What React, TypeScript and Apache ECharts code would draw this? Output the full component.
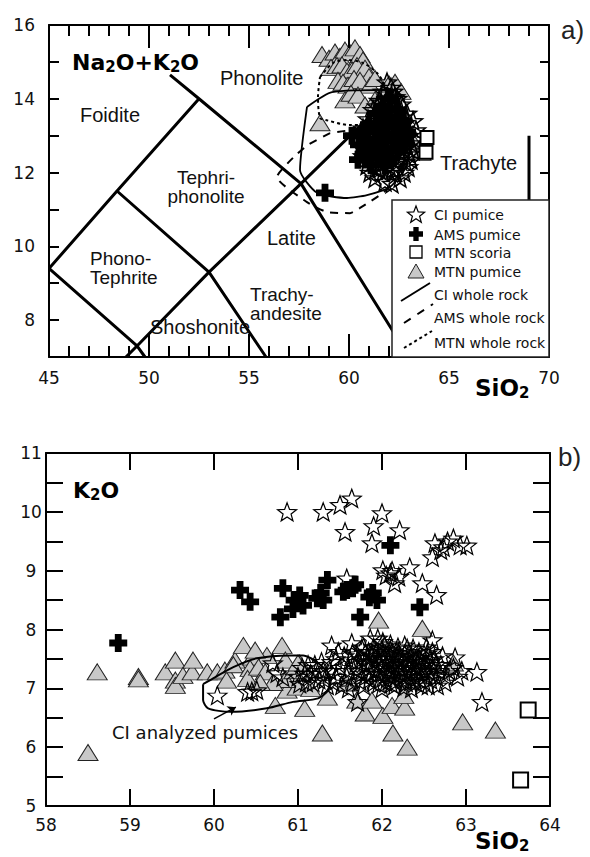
import React, { useEffect, useRef } from 'react';
import * as echarts from 'echarts';

// ---------------- (a) TAS diagram ----------------
const tasXRange = [45, 70];
const tasYRange = [7, 16];

// TAS field boundaries [SiO2, Na2O+K2O]
const tasLineA = [[45, 9.4], [48.4, 11.5], [52.5, 14]];
const tasLineB = [[45, 9.4], [49.4, 7.3], [49.8, 7]];
const tasLineC = [[48.4, 11.5], [53, 9.3], [55.85, 7]];
const tasLineD = [[48.85, 7], [49.4, 7.3], [53, 9.3], [57.6, 11.7], [61, 13.5]];
const tasLineE = [[51.05, 14.65], [52.5, 14], [57.6, 11.7], [63, 7]];
const tasLineF = [[69, 13], [69, 8]];

// whole-rock fields
const ciWholeRock = [[57.9, 13.78], [59.15, 14.18], [62.3, 14.24], [62.8, 13.9], [63.1, 13.1], [62.9, 12.2], [62.05, 11.61], [60.9, 11.39], [59.9, 11.31], [58.4, 11.45], [57.55, 12.07], [57.9, 13.78]];
const amsWholeRock = [[59.05, 13.07], [57.95, 12.75], [57.2, 12.4], [56.4, 11.88], [57.9, 11.2], [58.9, 10.93], [60.05, 10.9], [60.55, 11.04], [61.8, 11.5], [62.7, 12.2], [62.6, 13.0], [61.0, 13.2], [59.05, 13.07]];
const mtnWholeRock = [[58.55, 14.59], [59.2, 14.97], [59.9, 15.05], [60.7, 14.97], [61.4, 14.7], [61.85, 14.3], [62.0, 13.8], [61.2, 13.3], [60.05, 13.29], [58.8, 13.43], [58.55, 13.48], [58.45, 14.05], [58.55, 14.59]];

const tasMtnPumice = [
  [58.65, 15.2], [59.0, 15.1], [59.3, 15.27], [59.55, 15.15], [59.8, 15.32], [60.05, 15.25], [60.3, 15.38], [60.55, 15.2], [60.7, 15.05],
  [59.1, 14.85], [59.4, 14.9], [59.65, 14.92], [59.9, 14.75], [60.15, 14.78], [60.4, 14.9], [60.8, 14.83], [61.0, 14.6],
  [59.45, 14.5], [59.7, 14.45], [59.95, 14.37], [60.25, 14.55], [60.55, 14.5], [61.05, 14.37], [61.3, 14.55],
  [59.8, 13.97], [60.1, 14.15], [60.45, 14.1], [60.8, 13.83], [61.3, 13.97], [61.55, 13.48], [61.8, 14.1], [62.0, 14.4],
  [62.3, 14.45], [62.6, 14.2], [58.55, 13.35], [63.6, 12.55], [63.2, 12.85]
];
const tasCiPumice = [
  [61.9, 14.45], [62.1, 14.3], [61.7, 14.2], [62.3, 14.05], [61.5, 13.95], [62.6, 13.85], [61.2, 13.7], [62.9, 13.6], [60.95, 13.45], [63.2, 13.4],
  [60.7, 13.2], [63.35, 13.15], [60.5, 13.0], [63.3, 12.9], [60.6, 12.7], [63.2, 12.6], [60.7, 12.45], [63.1, 12.35], [60.9, 12.2], [62.95, 12.15],
  [61.05, 12.0], [62.75, 12.0], [61.3, 11.85], [62.55, 11.85], [61.8, 11.75], [62.15, 11.7], [61.5, 12.1], [62.3, 12.05],
  [61.4, 13.4], [61.8, 13.6], [62.2, 13.7], [62.6, 13.5], [61.1, 13.0], [61.5, 13.15], [61.9, 13.3], [62.3, 13.4], [62.7, 13.15], [63.0, 13.0],
  [60.9, 12.7], [61.3, 12.85], [61.7, 12.9], [62.1, 13.0], [62.5, 12.85], [62.9, 12.7], [61.0, 12.45], [61.4, 12.55], [61.8, 12.45], [62.2, 12.6],
  [62.6, 12.45], [63.0, 12.5], [61.2, 12.3], [61.6, 12.25], [62.0, 12.2], [62.4, 12.3], [62.8, 12.3], [61.6, 13.9], [62.0, 13.85], [62.4, 14.0],
  [61.1, 13.2], [61.3, 12.4], [61.5, 12.7], [61.7, 13.1], [61.9, 12.8], [62.1, 12.5], [62.3, 12.75], [62.5, 13.2], [62.7, 12.65], [62.9, 12.95],
  [61.2, 12.95], [61.6, 13.55], [62.0, 13.6], [62.4, 13.55], [62.8, 13.35], [61.9, 14.0], [62.2, 14.2], [61.4, 13.8], [61.0, 12.75], [60.8, 13.05],
  [63.1, 12.8], [62.2, 12.1], [61.7, 12.0], [61.35, 12.1]
];
const tasAmsPumice = [
  [58.8, 11.45], [60.15, 13.0], [60.45, 12.35], [60.5, 12.75], [60.7, 13.1], [60.8, 12.5], [60.9, 12.9], [61.0, 13.3], [61.1, 12.2], [61.2, 12.7],
  [61.3, 13.1], [61.35, 13.6], [61.5, 12.4], [61.55, 12.9], [61.6, 13.3], [61.7, 13.8], [61.8, 12.2], [61.85, 12.65], [61.9, 13.05], [62.0, 13.5],
  [62.05, 14.0], [62.1, 12.4], [62.2, 12.85], [62.3, 13.25], [62.4, 13.7], [62.45, 12.6], [62.55, 13.0], [62.7, 13.4], [62.8, 12.8], [62.9, 13.1]
];
const tasMtnScoria = [[63.9, 12.95], [63.85, 12.55]];

// ---------------- (b) K2O vs SiO2 ----------------
const k2oXRange = [58, 64];
const k2oYRange = [5, 11];

const k2oCiPumice = [
  [60.87, 10.0], [61.3, 10.0], [61.5, 10.12], [61.64, 10.23], [62.0, 9.98], [61.9, 9.76], [61.56, 9.66], [62.21, 9.69], [61.88, 9.47],
  [62.63, 9.47], [62.73, 9.4], [62.85, 9.55], [62.93, 9.43], [63.01, 9.43], [62.6, 9.23], [62.78, 9.5], [62.7, 9.35],
  [62.1, 8.96], [62.01, 9.01], [62.15, 8.79], [62.33, 9.06], [62.48, 8.79], [62.65, 8.59], [61.58, 8.87], [62.05, 8.92], [62.2, 8.9], [62.12, 9.0],
  [62.27, 7.73], [62.6, 7.82], [62.87, 7.53], [63.13, 7.28], [62.57, 7.48], [62.01, 7.79], [61.4, 7.73], [61.64, 7.77], [61.86, 7.85], [62.75, 7.22], [63.19, 6.77], [61.71, 6.77],
  [60.04, 6.88], [60.4, 6.94], [60.51, 6.97], [60.45, 6.95], [60.7, 7.43], [60.75, 7.26], [60.82, 7.19],
  [61.0, 7.2], [61.05, 7.35], [61.1, 7.1], [61.15, 7.25], [61.2, 7.4], [61.25, 7.15], [61.3, 7.3], [61.35, 7.05], [61.4, 7.45], [61.45, 7.2],
  [61.55, 7.55], [61.6, 7.3], [61.65, 7.1], [61.7, 7.45], [61.75, 7.25], [61.8, 7.6], [61.85, 7.35], [61.9, 7.1], [61.95, 7.5], [61.95, 7.25],
  [62.0, 7.65], [62.0, 7.0], [62.05, 7.4], [62.1, 7.2], [62.1, 7.55], [62.15, 7.05], [62.2, 7.35], [62.2, 7.6], [62.25, 7.15], [62.3, 7.45],
  [62.3, 7.25], [62.35, 7.0], [62.4, 7.35], [62.45, 7.15], [62.45, 7.5], [62.5, 7.25], [62.55, 7.05], [62.6, 7.35], [62.65, 7.2], [62.7, 7.4],
  [62.75, 7.1], [62.8, 7.3], [62.9, 7.2], [61.85, 7.15], [61.75, 7.5], [61.65, 7.6], [62.15, 7.3], [62.35, 7.55], [61.5, 7.35], [61.6, 7.0],
  [61.95, 7.85], [62.1, 7.75], [62.4, 7.1], [62.25, 7.5], [62.05, 7.1],
  [61.72, 7.3], [61.78, 7.05], [61.82, 7.42], [61.88, 7.55], [61.92, 7.3], [61.98, 7.15], [62.02, 7.45], [62.08, 7.3], [62.12, 7.62], [62.18, 7.45],
  [62.22, 7.25], [62.28, 7.35], [62.32, 7.6], [62.38, 7.2], [62.42, 7.42], [62.48, 7.3], [62.52, 7.45], [62.58, 7.15], [62.62, 7.5], [62.68, 7.3],
  [61.76, 7.68], [61.9, 7.7], [62.04, 7.58], [62.16, 7.12], [62.26, 7.02], [62.44, 7.62], [62.54, 7.6], [62.72, 7.55], [62.85, 7.35], [62.95, 7.3],
  [61.68, 7.38], [61.62, 7.48], [61.58, 7.2], [61.52, 7.05], [61.45, 7.5], [61.38, 7.3], [61.32, 7.15], [61.28, 7.45], [61.22, 7.3], [61.18, 7.1],
  [61.12, 7.4], [61.08, 7.25], [61.02, 7.08], [61.48, 7.62], [61.42, 7.1], [62.0, 7.35], [62.14, 7.4], [62.36, 7.32], [62.5, 7.12], [62.66, 7.05],
  [61.78, 7.7], [61.83, 7.52], [61.87, 7.25], [61.93, 7.62], [61.97, 7.4], [62.03, 7.72], [62.07, 7.5], [62.11, 7.08], [62.17, 7.55], [62.19, 7.7],
  [62.23, 7.42], [62.27, 7.58], [62.29, 7.1], [62.33, 7.38], [62.37, 7.68], [62.41, 7.28], [62.43, 7.52], [62.47, 7.05], [62.51, 7.38], [62.53, 7.7],
  [61.8, 7.2], [61.84, 7.62], [61.9, 7.45], [61.96, 7.08], [62.0, 7.5], [62.06, 7.25], [62.1, 7.65], [62.14, 7.18], [62.2, 7.5], [62.24, 7.32],
  [62.3, 7.68], [62.34, 7.12], [62.4, 7.48], [62.46, 7.38], [62.5, 7.58], [62.56, 7.28], [61.74, 7.12], [61.7, 7.58], [62.6, 7.62], [62.64, 7.4]
];
const k2oAmsPumice = [
  [58.86, 7.77], [60.31, 8.67], [60.43, 8.47], [60.82, 8.7], [60.79, 8.21], [60.96, 8.5], [61.02, 8.58], [61.06, 8.41], [60.94, 8.35], [61.23, 8.53],
  [61.27, 8.62], [61.35, 8.84], [61.3, 8.5], [61.54, 8.64], [61.65, 8.7], [61.58, 8.67], [61.68, 8.76], [61.89, 8.62], [61.94, 8.5], [61.74, 8.21],
  [62.1, 9.43], [62.45, 8.38], [61.85, 8.55]
];
const k2oMtnPumice = [
  [58.5, 5.91], [58.61, 7.28], [59.1, 7.2], [59.1, 7.16], [59.42, 7.28], [59.54, 7.48], [59.54, 7.14], [59.54, 7.05], [59.63, 7.22], [59.74, 7.28],
  [59.75, 7.48], [59.92, 7.28], [60.04, 7.28], [60.13, 7.31], [60.15, 7.14], [60.25, 7.48], [60.23, 7.4], [60.35, 7.73], [60.46, 7.53], [60.43, 7.34],
  [60.4, 7.17], [60.63, 7.56], [60.53, 7.36], [60.61, 7.28], [60.81, 7.73], [60.85, 7.48], [60.73, 6.71], [60.87, 6.97], [60.99, 7.02], [61.02, 7.43],
  [60.85, 7.15], [61.08, 6.66], [61.35, 6.85], [61.29, 6.24], [61.58, 7.09], [61.7, 6.8], [61.8, 6.58], [61.88, 6.8], [62.01, 6.54], [62.12, 6.71],
  [62.27, 6.68], [62.13, 6.24], [62.3, 6.0], [62.26, 6.88], [62.01, 7.77], [61.96, 8.16], [62.48, 8.02], [62.85, 7.43], [62.96, 6.43], [63.35, 6.29],
  [60.7, 7.1], [60.95, 7.3], [60.55, 7.1], [61.15, 7.0], [60.49, 7.65], [61.0, 7.43]
];
const k2oMtnScoria = [[63.74, 6.63], [63.65, 5.44]];
const ciAnalyzedField = [[59.87, 7.07], [59.99, 7.17], [60.23, 7.36], [60.51, 7.51], [60.9, 7.56], [61.06, 7.56], [61.24, 7.43], [61.38, 7.19], [61.36, 6.97], [61.24, 6.83], [60.94, 6.77], [60.63, 6.66], [60.19, 6.6], [59.93, 6.66], [59.87, 6.8], [59.87, 7.07]];
const ciArrow = [[60.0, 6.48], [60.26, 6.68]];

const STAR = 'path://M0,-10L2.47,-3.4L9.51,-3.09L3.99,1.3L5.88,8.09L0,4.2L-5.88,8.09L-3.99,1.3L-9.51,-3.09L-2.47,-3.4Z';
const CROSS = 'path://M3.1,0H6.9V3.1H10V6.9H6.9V10H3.1V6.9H0V3.1H3.1Z';

const FONT = 'DejaVu Sans';
const REG = 'Liberation Sans';

function starPts(cx: number, cy: number, R: number) {
  const pts: number[][] = [];
  for (let i = 0; i < 10; i++) {
    const a = -Math.PI / 2 + (i * Math.PI) / 5;
    const rr = i % 2 === 0 ? R : R * 0.42;
    pts.push([cx + rr * Math.cos(a), cy + rr * Math.sin(a)]);
  }
  return pts;
}
function crossPts(cx: number, cy: number, s: number) {
  const h = s / 2, t = s * 0.19;
  return [[cx - t, cy - h], [cx + t, cy - h], [cx + t, cy - t], [cx + h, cy - t], [cx + h, cy + t], [cx + t, cy + t], [cx + t, cy + h], [cx - t, cy + h], [cx - t, cy + t], [cx - h, cy + t], [cx - h, cy - t], [cx - t, cy - t]];
}

function valAxis(grid: number, pos: string, range: number[], interval: number, tickLen: number, showLabel: boolean, extra: any = {}) {
  return {
    type: 'value', gridIndex: grid, position: pos, min: range[0], max: range[1], interval,
    axisLine: { show: true, onZero: false, lineStyle: { color: '#000', width: 2 } },
    axisTick: { show: true, inside: true, length: tickLen, lineStyle: { color: '#000', width: 2 } },
    splitLine: { show: false },
    axisLabel: { show: showLabel, fontFamily: FONT, fontSize: 17, color: '#111' },
    ...extra,
  };
}

function tasLine(data: number[][]) {
  return { type: 'line', xAxisIndex: 0, yAxisIndex: 0, data, symbol: 'none', silent: true, lineStyle: { color: '#000', width: 3 }, z: 1 };
}

function text(x: number, y: number, t: string, size: number, extra: any = {}) {
  return {
    type: 'text', x, y, z: 60,
    style: { text: t, fontFamily: REG, fontSize: size, fill: '#111', textVerticalAlign: 'middle', verticalAlign: 'middle', ...extra },
  };
}

function subText(x: number, y: number, t: string, size: number) {
  return {
    type: 'text', x, y, z: 60,
    style: {
      text: t, fontFamily: FONT, fontWeight: 'bold', fontSize: size, fill: '#000',
      textVerticalAlign: 'middle', verticalAlign: 'middle',
      rich: {
        a: { fontFamily: FONT, fontWeight: 'bold', fontSize: size, lineHeight: size + 2, fill: '#000' },
        s: { fontFamily: FONT, fontWeight: 'bold', fontSize: Math.round(size * 0.66), lineHeight: 8, verticalAlign: 'bottom', fill: '#000' },
      },
    },
  };
}

const grids = [
  { left: 49, top: 25, width: 500, height: 332 },
  { left: 46, top: 453, width: 504, height: 353 },
];

// ticks of the TAS x axes (every unit, long ones every 5), spaced along the axis extent
function tasXTicks() {
  const g = grids[0];
  const els: any[] = [];
  for (let v = tasXRange[0] + 1; v < tasXRange[1]; v++) {
    const len = v % 5 === 0 ? 23 : 11;
    const px = Math.round(g.left + ((v - tasXRange[0]) / (tasXRange[1] - tasXRange[0])) * g.width);
    els.push({ type: 'rect', z: 40, shape: { x: px - 1, y: g.top + g.height - len, width: 2, height: len }, style: { fill: '#000' } });
    els.push({ type: 'rect', z: 40, shape: { x: px - 1, y: g.top, width: 2, height: len }, style: { fill: '#000' } });
  }
  return els;
}

export default function App() {
  const ref = useRef<HTMLDivElement>(null);
  useEffect(() => {
    if (!ref.current) return;
    const chart = echarts.init(ref.current, undefined, { renderer: 'svg' });

    const lg = (y: number, t: string) => ({
      type: 'text', x: 434, y, z: 61,
      style: { text: t, fontFamily: FONT, fontSize: 14, fill: '#111', textVerticalAlign: 'middle', verticalAlign: 'middle' },
    });
    const starStyle = (bw: number) => ({ color: 'rgba(255,255,255,0)', borderColor: '#000', borderWidth: bw, opacity: 1 });

    const option: any = {
      animation: false,
      grid: grids,
      xAxis: [
        valAxis(0, 'bottom', tasXRange, 5, 23, true, { axisTick: { show: false }, axisLabel: { fontFamily: FONT, fontSize: 17, color: '#111', margin: 12 } }),
        valAxis(0, 'top', tasXRange, 5, 23, false, { axisTick: { show: false } }),
        valAxis(1, 'bottom', k2oXRange, 1, 17, true, { axisLabel: { fontFamily: FONT, fontSize: 17, color: '#111', margin: 10 } }),
        valAxis(1, 'top', k2oXRange, 1, 17, false),
      ],
      yAxis: [
        valAxis(0, 'left', tasYRange, 1, 10, true, {
          axisLabel: { fontFamily: FONT, fontSize: 17, color: '#111', margin: 14, padding: [10, 0, 0, 0], formatter: (v: number) => (v % 2 === 0 ? String(v) : '') },
        }),
        valAxis(0, 'right', tasYRange, 1, 9, false),
        valAxis(1, 'left', k2oYRange, 0.5, 17, true, {
          axisLabel: { fontFamily: FONT, fontSize: 17, color: '#111', margin: 15, align: 'center', formatter: (v: number) => (Number.isInteger(v) ? String(v) : '') },
        }),
        valAxis(1, 'right', k2oYRange, 0.5, 17, false),
      ],
      series: [
        tasLine(tasLineA), tasLine(tasLineB), tasLine(tasLineC), tasLine(tasLineD), tasLine(tasLineE), tasLine(tasLineF),
        { type: 'scatter', xAxisIndex: 0, yAxisIndex: 0, data: tasMtnPumice, symbol: 'triangle', symbolSize: [20, 16], silent: true, itemStyle: { color: '#c8c8c8', borderColor: '#222', borderWidth: 1, opacity: 1 } },
        { type: 'line', xAxisIndex: 0, yAxisIndex: 0, data: ciWholeRock, symbol: 'none', smooth: 0.2, silent: true, lineStyle: { color: '#000', width: 1.8 } },
        { type: 'line', xAxisIndex: 0, yAxisIndex: 0, data: amsWholeRock, symbol: 'none', smooth: 0.2, silent: true, lineStyle: { color: '#000', width: 2, type: [8, 7] } },
        { type: 'line', xAxisIndex: 0, yAxisIndex: 0, data: mtnWholeRock, symbol: 'none', smooth: 0.3, silent: true, lineStyle: { color: '#000', width: 2, type: [3, 3] } },
        { type: 'scatter', xAxisIndex: 0, yAxisIndex: 0, data: tasCiPumice, symbol: STAR, symbolSize: [19, 18], silent: true, itemStyle: starStyle(1.5) },
        { type: 'scatter', xAxisIndex: 0, yAxisIndex: 0, data: tasAmsPumice, symbol: CROSS, symbolSize: 18, silent: true, itemStyle: { color: '#000', opacity: 1 } },
        { type: 'scatter', xAxisIndex: 0, yAxisIndex: 0, data: tasMtnScoria, symbol: 'rect', symbolSize: 13, silent: true, itemStyle: { color: '#fff', borderColor: '#000', borderWidth: 2, opacity: 1 } },

        { type: 'scatter', xAxisIndex: 2, yAxisIndex: 2, data: k2oMtnPumice, symbol: 'triangle', symbolSize: [20, 16], silent: true, itemStyle: { color: '#c8c8c8', borderColor: '#222', borderWidth: 1, opacity: 1 } },
        { type: 'line', xAxisIndex: 2, yAxisIndex: 2, data: ciAnalyzedField, symbol: 'none', smooth: 0.25, silent: true, lineStyle: { color: '#000', width: 2 } },
        { type: 'scatter', xAxisIndex: 2, yAxisIndex: 2, data: k2oCiPumice, symbol: STAR, symbolSize: [19, 18], silent: true, itemStyle: starStyle(1.2) },
        { type: 'scatter', xAxisIndex: 2, yAxisIndex: 2, data: k2oAmsPumice, symbol: CROSS, symbolSize: 18, silent: true, itemStyle: { color: '#000', opacity: 1 } },
        { type: 'scatter', xAxisIndex: 2, yAxisIndex: 2, data: k2oMtnScoria, symbol: 'rect', symbolSize: 15, silent: true, itemStyle: { color: '#fff', borderColor: '#000', borderWidth: 2, opacity: 1 } },
        { type: 'lines', coordinateSystem: 'cartesian2d', xAxisIndex: 2, yAxisIndex: 2, silent: true, symbol: ['none', 'arrow'], symbolSize: 8, lineStyle: { color: '#000', width: 1.5, opacity: 1 }, data: [{ coords: ciArrow }] },
      ],
      graphic: {
        elements: [
          ...tasXTicks(),
          // region names
          text(80, 115, 'Foidite', 20),
          text(220, 78, 'Phonolite', 20),
          text(206, 177, 'Tephri-', 19, { align: 'center', textAlign: 'center' }),
          text(206, 196, 'phonolite', 19, { align: 'center', textAlign: 'center' }),
          text(90, 258, 'Phono-', 19),
          text(90, 277, 'Tephrite', 19),
          text(267, 238, 'Latite', 20),
          text(250, 294, 'Trachy-', 19),
          text(250, 313, 'andesite', 19),
          text(150, 327, 'Shoshonite', 20),
          text(440, 163, 'Trachyte', 20),
          // axis titles
          subText(72, 62, '{a|Na}{s|2}{a|O+K}{s|2}{a|O}', 22),
          subText(475, 388, '{a|SiO}{s|2}', 23),
          subText(73, 490, '{a|K}{s|2}{a|O}', 22),
          subText(475, 841, '{a|SiO}{s|2}', 23),
          text(561, 30, 'a)', 26, { fill: '#222' }),
          text(558, 457, 'b)', 26, { fill: '#222' }),
          text(112, 732, 'CI analyzed pumices', 18, { fontFamily: FONT }),
          // legend
          { type: 'rect', z: 55, shape: { x: 392, y: 200, width: 157, height: 157 }, style: { fill: '#fff', stroke: '#222', lineWidth: 1.5 } },
          { type: 'polygon', z: 61, shape: { points: starPts(416, 215, 9) }, style: { fill: '#fff', stroke: '#000', lineWidth: 1.2 } },
          { type: 'polygon', z: 61, shape: { points: crossPts(416, 234, 14) }, style: { fill: '#000' } },
          { type: 'rect', z: 61, shape: { x: 410, y: 246, width: 12, height: 12 }, style: { fill: '#fff', stroke: '#000', lineWidth: 1.3 } },
          { type: 'polygon', z: 61, shape: { points: [[416, 264], [424, 278], [408, 278]] }, style: { fill: '#c8c8c8', stroke: '#222', lineWidth: 1 } },
          { type: 'line', z: 61, shape: { x1: 401, y1: 301, x2: 430, y2: 283 }, style: { stroke: '#000', lineWidth: 2 } },
          { type: 'line', z: 61, shape: { x1: 404, y1: 323, x2: 433, y2: 304 }, style: { stroke: '#000', lineWidth: 2, lineDash: [8, 8] } },
          { type: 'line', z: 61, shape: { x1: 404, y1: 348, x2: 432, y2: 331 }, style: { stroke: '#000', lineWidth: 2, lineDash: [3, 3] } },
          lg(215, 'CI pumice'),
          lg(235, 'AMS pumice'),
          lg(253, 'MTN scoria'),
          lg(272, 'MTN pumice'),
          lg(295, 'CI whole rock'),
          lg(318, 'AMS whole rock'),
          lg(343, 'MTN whole rock'),
        ],
      },
    };
    chart.setOption(option);
    return () => chart.dispose();
  }, []);
  return <div ref={ref} style={{ position: 'fixed', left: 0, top: 0, width: 590, height: 857, background: '#fff' }} />;
}
